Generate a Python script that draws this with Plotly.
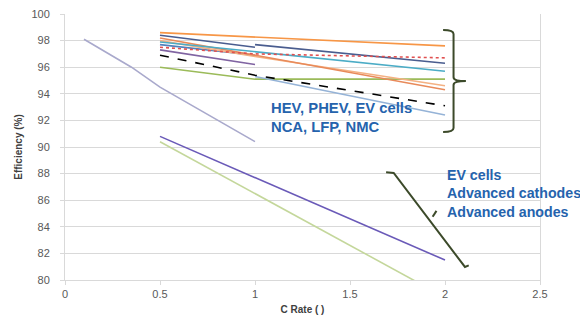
import plotly.graph_objects as go

# ---- data ----
orange1_x = [0.5, 2]; orange1_y = [98.6, 97.6]
navy1_x = [0.5, 1]; navy1_y = [98.4, 97.5]
navy2_x = [1, 2]; navy2_y = [97.7, 96.3]
teal_x = [0.5, 2]; teal_y = [97.9, 95.7]
orange2_x = [0.5, 2]; orange2_y = [98.2, 94.3]
orange3_x = [0.5, 1, 2]; orange3_y = [98.0, 96.8, 94.6]
reddot_x = [0.5, 1, 2]; reddot_y = [97.5, 97.0, 96.7]
blue_x = [0.5, 1]; blue_y = [97.7, 96.9]
purple_x = [0.5, 1]; purple_y = [97.3, 96.2]
dashed_x = [0.5, 1, 2]; dashed_y = [96.9, 95.4, 93.1]
green_x = [0.5, 1, 2]; green_y = [96.0, 95.1, 95.1]
lightblue_x = [1, 2]; lightblue_y = [95.3, 92.4]
lavender_x = [0.1, 0.35, 0.5, 1]; lavender_y = [98.1, 96.0, 94.5, 90.4]
ev_purple_x = [0.5, 2]; ev_purple_y = [90.8, 81.5]
ev_green_x = [0.5, 2]; ev_green_y = [90.4, 78.7]

x_ticks = [0, 0.5, 1, 1.5, 2, 2.5]
y_ticks = [80, 82, 84, 86, 88, 90, 92, 94, 96, 98, 100]

group1_text = ["HEV, PHEV, EV cells", "NCA, LFP, NMC"]
group2_text = ["EV cells", "Advanced cathodes", "Advanced anodes"]

series = [
    (lavender_x, lavender_y, "#a9a9cc", "solid"),
    (ev_green_x, ev_green_y, "#c4d79b", "solid"),
    (ev_purple_x, ev_purple_y, "#6a5ab8", "solid"),
    (green_x, green_y, "#9bbb59", "solid"),
    (lightblue_x, lightblue_y, "#95b3d7", "solid"),
    (dashed_x, dashed_y, "#000000", "dash"),
    (purple_x, purple_y, "#8064a2", "solid"),
    (blue_x, blue_y, "#4f81bd", "solid"),
    (orange3_x, orange3_y, "#f4b183", "solid"),
    (orange2_x, orange2_y, "#e88a5a", "solid"),
    (teal_x, teal_y, "#4bacc6", "solid"),
    (navy2_x, navy2_y, "#4a5d8f", "solid"),
    (navy1_x, navy1_y, "#4a5d8f", "solid"),
    (reddot_x, reddot_y, "#e05050", "dot"),
    (orange1_x, orange1_y, "#f79646", "solid"),
]

fig = go.Figure()
for xs, ys, col, dash in series:
    fig.add_trace(go.Scatter(x=xs, y=ys, mode="lines",
                             line=dict(color=col, width=1.6, dash=dash),
                             showlegend=False, hoverinfo="skip"))

grid = "#d9d9d9"
tickfont = dict(family="Liberation Sans, Arial", size=11, color="#595959")

fig.update_layout(
    width=580, height=313,
    margin=dict(l=57, r=48, t=6, b=41, autoexpand=False),
    paper_bgcolor="white", plot_bgcolor="white",
    xaxis=dict(range=[0, 2.5], tickvals=x_ticks, ticktext=[f"{v:g}" for v in x_ticks],
               showgrid=False, zeroline=False, showline=True, linecolor=grid,
               ticks="outside", ticklen=4, tickcolor=grid, tickfont=tickfont,
               ticklabeloverflow="allow", automargin=False,
               title=dict(text="<b>C Rate ( )</b>", standoff=6,
                          font=dict(family="Liberation Sans, Arial", size=10, color="#404040"))),
    yaxis=dict(range=[80, 100], tickvals=y_ticks, showgrid=True, gridcolor=grid,
               zeroline=False, showline=True, linecolor=grid, mirror=True,
               ticks="outside", ticklen=4, tickcolor=grid, tickfont=tickfont,
               ticklabelstandoff=8, ticklabeloverflow="allow", automargin=False,
               title=dict(text="<b>Efficiency (%)</b>", standoff=6,
                          font=dict(family="Liberation Sans, Arial", size=10, color="#404040"))),
)

# curly bracket for group 1
fig.add_shape(type="path", xref="x", yref="y",
              path="M 1.99 98.8 Q 2.045 98.8 2.045 98.5 L 2.045 95.25 Q 2.045 94.96 2.11 94.96 "
                   "Q 2.045 94.96 2.045 94.67 L 2.045 91.43 Q 2.045 91.13 1.99 91.13",
              line=dict(color="#3c4a2a", width=2))
# slanted bracket for group 2
fig.add_shape(type="path", xref="x", yref="y",
              path="M 1.69 88.1 L 1.73 88.05 L 2.105 80.98 L 2.125 81.1",
              line=dict(color="#3c4a2a", width=2))
fig.add_shape(type="line", xref="x", yref="y", x0=1.935, y0=84.75, x1=1.955, y1=85.2,
              line=dict(color="#3c4a2a", width=2))

afont1 = dict(family="Liberation Sans, Arial", size=14.8, color="#2563ad")
afont2 = dict(family="Liberation Sans, Arial", size=14.2, color="#2563ad")
for i, t in enumerate(group1_text):
    fig.add_annotation(x=1.075, y=92.93 - i * 1.45, text=f"<b>{t}</b>", showarrow=False,
                       xanchor="left", yanchor="middle", font=afont1)
for i, t in enumerate(group2_text):
    fig.add_annotation(x=2.0, y=87.9 - i * 1.38, text=f"<b>{t}</b>", showarrow=False,
                       xanchor="left", yanchor="middle", font=afont2)

fig.write_html("out.html")
